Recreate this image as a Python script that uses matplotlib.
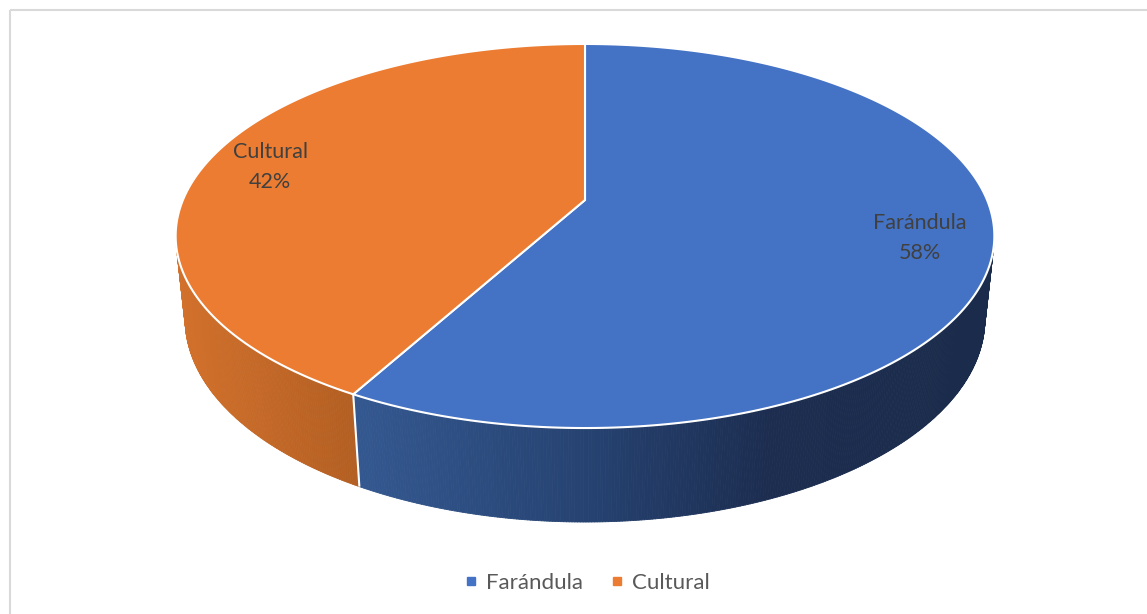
import matplotlib
matplotlib.use("Agg")
import matplotlib.pyplot as plt
from matplotlib.patches import Polygon, Rectangle
from matplotlib.collections import PolyCollection
from matplotlib.lines import Line2D
from matplotlib.colors import to_rgb
import numpy as np

# data
labels = ["Farándula", "Cultural"]
values = [58, 42]
top_colors = ["#4472C4", "#EB7C31"]
# side wall shading (screen x, colour) for each slice
side_stops = [
    [(365, "#33578F"), (600, "#25416F"), (770, "#1C2D50"), (1000, "#1A2B4B")],
    [(175, "#D2712C"), (360, "#B25E22")],
]

plt.rcParams['font.family'] = ['Lato', 'DejaVu Sans']

W, H = 1147, 614
fig = plt.figure(figsize=(W / 100, H / 100), dpi=100)
ax = fig.add_axes([0, 0, 1, 1])
ax.set_xlim(0, W)
ax.set_ylim(H, 0)
ax.axis('off')

# camera for the tilted disc
phi = np.arcsin(0.4608)
dist = 4.733
scale = 1903
cx, cy = 585, 200
thick = 0.2346


def project(theta, z):
    t = np.radians(theta)
    X, Y = np.sin(t), np.cos(t)
    depth = Y * np.cos(phi) + dist - z * np.sin(phi)
    up = Y * np.sin(phi) + z * np.cos(phi)
    return cx + scale * X / depth, cy - scale * up / depth


def shade(x, stops):
    xs = [s[0] for s in stops]
    cols = np.array([to_rgb(s[1]) for s in stops])
    return tuple(np.interp(x, xs, cols[:, i]) for i in range(3))


total = sum(values)
bounds = np.concatenate([[0], np.cumsum(values) / total * 360])

# visible part of the side wall
lim = np.degrees(np.arccos(-1 / (dist * np.cos(phi))))
vis_lo, vis_hi = lim, 360 - lim

for i in range(len(values)):
    a0 = max(bounds[i], vis_lo)
    a1 = min(bounds[i + 1], vis_hi)
    if a1 <= a0:
        continue
    th = np.linspace(a0, a1, int((a1 - a0) * 3) + 2)
    quads, cols = [], []
    for j in range(len(th) - 1):
        x0, y0 = project(th[j], 0)
        x1, y1 = project(th[j + 1], 0)
        x2, y2 = project(th[j + 1], -thick)
        x3, y3 = project(th[j], -thick)
        quads.append([(x0, y0), (x1, y1), (x2, y2), (x3, y3)])
        cols.append(shade((x0 + x1) / 2, side_stops[i]))
    ax.add_collection(PolyCollection(quads, facecolors=cols, edgecolors=cols,
                                     linewidths=0.6, antialiased=True))

# white seam on the side between slices
for b in bounds[1:-1]:
    if vis_lo < b < vis_hi:
        xa, ya = project(b, 0)
        xb, yb = project(b, -thick)
        ax.plot([xa, xb], [ya, yb], color="white", lw=1.5, solid_capstyle='butt')

# top face
for i in range(len(values)):
    th = np.linspace(bounds[i], bounds[i + 1], 300)
    px, py = project(th, 0)
    pts = [(cx, cy)] + list(zip(px, py))
    ax.add_patch(Polygon(pts, closed=True, facecolor=top_colors[i],
                         edgecolor="white", lw=1.5, joinstyle='miter'))

# data labels
label_pos = [(920, 238), (270, 167)]
for i, (lx, ly) in enumerate(label_pos):
    pct = round(values[i] / total * 100)
    ax.text(lx, ly, f"{labels[i]}\n{pct}%", ha='center', va='center',
            fontsize=15.5, color="#404040", linespacing=1.62)

# chart border
ax.add_patch(Rectangle((9.5, 9.5), 1300, 800, fill=False,
                       edgecolor="#D9D9D9", lw=1.5))

handles = [Line2D([], [], marker='s', linestyle='none', markersize=6,
                  markerfacecolor=c, markeredgecolor=c) for c in top_colors]
ax.legend(handles, labels, loc='center', bbox_to_anchor=(587 / W, 1 - 583 / H),
          ncol=2, frameon=False, handlelength=0.6, handletextpad=0.4,
          columnspacing=1.2, labelcolor="#595959", prop={'size': 16})

fig.savefig("out.png", dpi=100)
